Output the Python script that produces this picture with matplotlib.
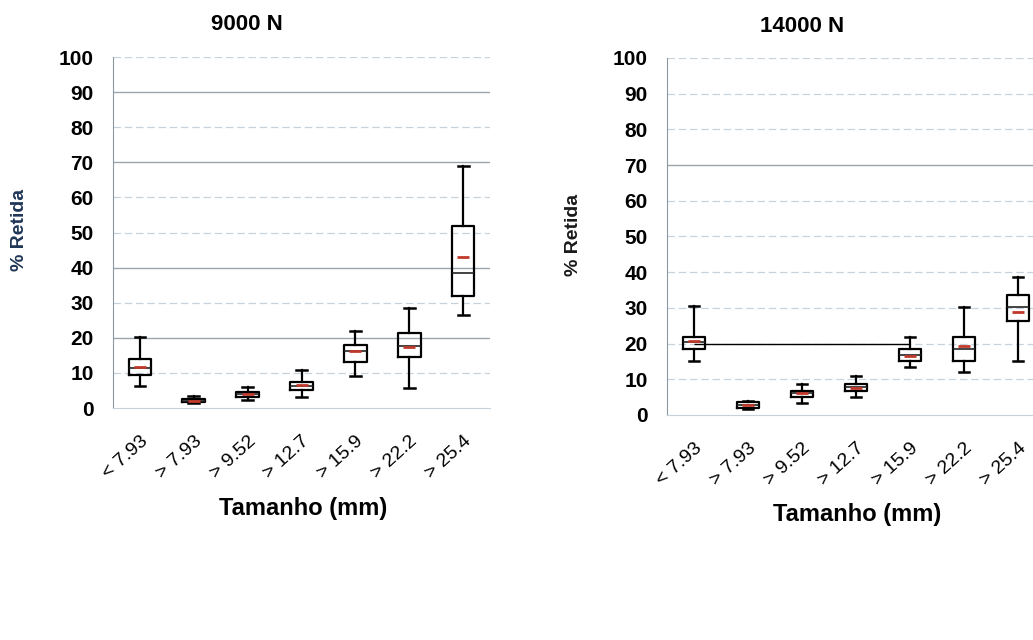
import matplotlib
matplotlib.use("Agg")
from matplotlib import pyplot as plt

plt.rcParams['font.family'] = ['Liberation Sans', 'DejaVu Sans']

categorias = ['< 7.93', '> 7.93', '> 9.52', '> 12.7', '> 15.9', '> 22.2', '> 25.4']

# 9000 N
whislo_9000 = [6.4, 1.4, 2.2, 3.1, 9.0, 5.7, 26.4]
q1_9000 = [9.5, 1.6, 3.1, 5.2, 13.1, 14.4, 31.8]
med_9000 = [11.4, 2.1, 4.0, 6.4, 16.1, 17.8, 38.6]
mean_9000 = [11.8, 2.1, 4.1, 6.5, 16.3, 17.3, 43.1]
q3_9000 = [14.0, 2.7, 4.7, 7.3, 18.0, 21.3, 51.9]
whishi_9000 = [20.1, 3.3, 6.0, 10.7, 22.0, 28.4, 69.0]

# 14000 N
whislo_14000 = [15.2, 1.8, 3.3, 5.1, 13.4, 11.9, 15.2]
q1_14000 = [18.5, 2.0, 5.1, 6.8, 15.2, 15.2, 26.4]
med_14000 = [20.4, 2.7, 6.1, 7.7, 16.8, 18.5, 30.2]
mean_14000 = [20.6, 2.8, 6.2, 7.6, 16.6, 19.2, 28.8]
q3_14000 = [21.8, 3.6, 6.8, 8.6, 18.5, 21.8, 33.5]
whishi_14000 = [30.6, 3.9, 8.6, 10.9, 21.8, 30.2, 38.6]

# linha preta horizontal que aparece no painel de 14000 N
linha_14000 = 20.0


def stats(lo, q1, med, mean, q3, hi):
    return [dict(whislo=a, q1=b, med=c, mean=d, q3=e, whishi=f, fliers=[])
            for a, b, c, d, e, f in zip(lo, q1, med, mean, q3, hi)]


def painel(ax, st, fortes):
    ax.set_xlim(-0.5, 6.5)
    ax.set_ylim(0, 100)
    for v in range(10, 101, 10):
        if v in fortes:
            ax.axhline(v, color='#9aa4ac', lw=1.0, zorder=0)
        else:
            ax.axhline(v, color='#c6d3dc', lw=0.9, ls=(0, (6, 3)), zorder=0)
    ax.bxp(st, positions=range(len(st)), widths=0.42, capwidths=0.2,
           showmeans=True, showfliers=False,
           boxprops=dict(color='black', lw=1.6),
           whiskerprops=dict(color='black', lw=1.6),
           capprops=dict(color='black', lw=1.8),
           medianprops=dict(color='#222222', lw=1.2),
           meanprops=dict(marker='_', markersize=9, markeredgewidth=2,
                          markeredgecolor='#c0392b'))
    ax.set_xticks(range(len(categorias)))
    ax.set_xticklabels(categorias, rotation=42, ha='right',
                       rotation_mode='anchor', fontsize=14)
    ax.set_yticks(range(0, 101, 10))
    ax.tick_params(axis='y', labelsize=15, length=0, pad=14)
    ax.tick_params(axis='x', length=0, pad=18)
    for lab in ax.get_yticklabels():
        lab.set_fontweight('bold')
    for s in ['top', 'right']:
        ax.spines[s].set_visible(False)
    ax.spines['left'].set_color('#8c979f')
    ax.spines['bottom'].set_color('#c6d3dc')


fig = plt.figure(figsize=(10.33, 6.4), dpi=100)
ax1 = fig.add_axes([0.1094, 0.3625, 0.365, 0.5484])
ax2 = fig.add_axes([0.6457, 0.3516, 0.366, 0.5578])

painel(ax1, stats(whislo_9000, q1_9000, med_9000, mean_9000, q3_9000, whishi_9000),
       [20, 40, 70, 90])
painel(ax2, stats(whislo_14000, q1_14000, med_14000, mean_14000, q3_14000, whishi_14000),
       [70])
ax2.hlines(linha_14000, 0, 4, color='black', lw=1.0, zorder=1)

fig.text(247 / 1033, 1 - 25 / 640, '9000 N', ha='center', va='center',
         fontsize=16, fontweight='bold')
fig.text(802 / 1033, 1 - 26 / 640, '14000 N', ha='center', va='center',
         fontsize=16, fontweight='bold')
fig.text(20 / 1033, 1 - 230 / 640, '% Retida', rotation=90, ha='center',
         va='center', fontsize=14, fontweight='bold', color='#1f3657')
fig.text(573 / 1033, 1 - 235 / 640, '% Retida', rotation=90, ha='center',
         va='center', fontsize=14, fontweight='bold', color='#1a1a1a')
fig.text(303 / 1033, 1 - 508 / 640, 'Tamanho (mm)', ha='center', va='center',
         fontsize=17, fontweight='bold')
fig.text(857 / 1033, 1 - 514 / 640, 'Tamanho (mm)', ha='center', va='center',
         fontsize=17, fontweight='bold')

fig.savefig('out.png', dpi=100)
